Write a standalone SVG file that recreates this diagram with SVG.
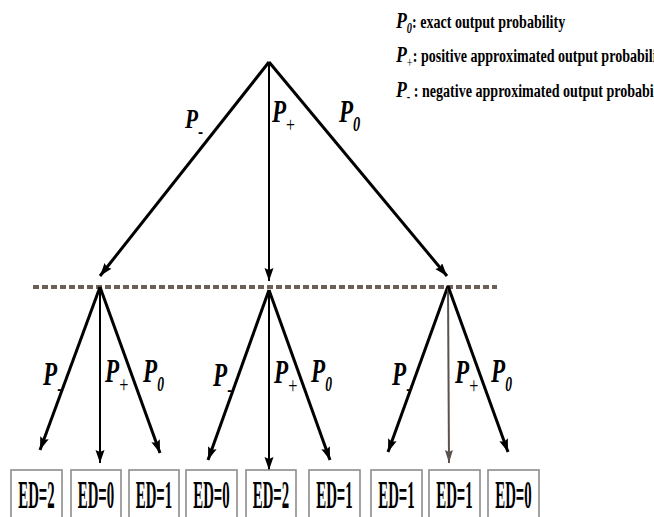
<svg xmlns="http://www.w3.org/2000/svg" width="654" height="517" viewBox="0 0 654 517">
<style>
.e{stroke:#000;fill:none;stroke-width:3}
.v{stroke:#000;fill:none;stroke-width:2}
.P{font-family:"Liberation Serif",serif;font-weight:bold;font-style:italic;fill:#000}
.lg{font-family:"Liberation Serif",serif;font-weight:bold;font-size:19px;fill:#000}
.pi{font-style:italic}
.up{font-style:normal}
.thin{font-weight:normal;font-style:normal}
.box{fill:#fff;stroke:#8c8c8c;stroke-width:1.6}
.ed{font-family:"Liberation Serif",serif;font-weight:bold;font-size:40px;fill:#000;text-anchor:middle}
</style>
<defs>
<marker id="ah" markerUnits="userSpaceOnUse" markerWidth="14" markerHeight="10" refX="13" refY="4.5" orient="auto" viewBox="0 0 14 10">
<path d="M0,0 L13,4.5 L0,9 L2,4.5 z" fill="#000"/>
</marker>
<marker id="ahg" markerUnits="userSpaceOnUse" markerWidth="14" markerHeight="10" refX="13" refY="4.5" orient="auto" viewBox="0 0 14 10">
<path d="M0,0.5 L13,4.5 L0,8.5 L2,4.5 z" fill="#5c524d"/>
</marker>
</defs>

<g id="legend">
<text class="lg" transform="translate(396,28) scale(0.74,1)"><tspan class="pi" font-size="24">P</tspan><tspan class="pi" font-size="14" dy="5">0</tspan><tspan dy="-5">: exact output probability</tspan></text>
<text class="lg" transform="translate(396,62) scale(0.74,1)"><tspan class="pi" font-size="24">P</tspan><tspan class="thin" font-size="14" dy="5">+</tspan><tspan dy="-5">: positive approximated output probability</tspan></text>
<text class="lg" transform="translate(396,97) scale(0.74,1)"><tspan class="pi" font-size="24">P</tspan><tspan font-size="14" dy="4">-</tspan><tspan dy="-4"> : negative approximated output probability</tspan></text>
</g>

<g id="connectors">
<path class="e" d="M269,62 L100,276" marker-end="url(#ah)"/>
<path class="v" d="M269,62 L269,281" marker-end="url(#ah)"/>
<path class="e" d="M269,62 L447,276" marker-end="url(#ah)"/>
<path d="M33,287 L497,287" stroke="#6b5f58" stroke-width="4" stroke-dasharray="6 3" fill="none"/>
<path class="e" d="M100,287 L40,450" marker-end="url(#ah)"/>
<path class="v" d="M100,287 L100,463" marker-end="url(#ah)"/>
<path class="e" d="M100,287 L160,453" marker-end="url(#ah)"/>
<path class="e" d="M269,290 L208,460" marker-end="url(#ah)"/>
<path class="v" d="M269,290 L269,470" marker-end="url(#ah)"/>
<path class="e" d="M269,290 L330,460" marker-end="url(#ah)"/>
<path class="e" d="M448,286 L388,452" marker-end="url(#ah)"/>
<path d="M448,286 L449,463" stroke="#5c524d" stroke-width="2" fill="none" marker-end="url(#ahg)"/>
<path class="e" d="M448,286 L508,452" marker-end="url(#ah)"/>
</g>

<g id="edge-labels">
<text class="P" font-size="28" transform="translate(185,128) scale(0.76,1)">P<tspan class="up" font-size="20" dy="10">-</tspan></text>
<text class="P" font-size="32" transform="translate(272,122) scale(0.72,1)">P<tspan class="thin" font-size="22" dy="10">+</tspan></text>
<text class="P" font-size="32" transform="translate(339,122) scale(0.72,1)">P<tspan font-size="20" dy="9">0</tspan></text>

<text class="P" font-size="34" transform="translate(43,385) scale(0.68,1)">P<tspan class="up" font-size="20" dy="10">-</tspan></text>
<text class="P" font-size="34" transform="translate(105,382) scale(0.68,1)">P<tspan class="thin" font-size="24" dy="10">+</tspan></text>
<text class="P" font-size="34" transform="translate(143,382) scale(0.68,1)">P<tspan font-size="20" dy="9">0</tspan></text>

<text class="P" font-size="34" transform="translate(213,386) scale(0.68,1)">P<tspan class="up" font-size="20" dy="10">-</tspan></text>
<text class="P" font-size="34" transform="translate(274,383) scale(0.68,1)">P<tspan class="thin" font-size="24" dy="10">+</tspan></text>
<text class="P" font-size="34" transform="translate(311,382) scale(0.68,1)">P<tspan font-size="20" dy="9">0</tspan></text>

<text class="P" font-size="34" transform="translate(392,385) scale(0.68,1)">P<tspan class="up" font-size="20" dy="10">-</tspan></text>
<text class="P" font-size="34" transform="translate(455,383) scale(0.68,1)">P<tspan class="thin" font-size="24" dy="10">+</tspan></text>
<text class="P" font-size="34" transform="translate(491,382) scale(0.68,1)">P<tspan font-size="20" dy="9">0</tspan></text>
</g>

<g id="leaf1"><rect class="box" x="11" y="470" width="51" height="52"/><text class="ed" transform="translate(36.5,508) scale(0.37,1)">ED=2</text></g>
<g id="leaf2"><rect class="box" x="71" y="470" width="50" height="52"/><text class="ed" transform="translate(96,508) scale(0.37,1)">ED=0</text></g>
<g id="leaf3"><rect class="box" x="129" y="470" width="50" height="52"/><text class="ed" transform="translate(154,508) scale(0.37,1)">ED=1</text></g>
<g id="leaf4"><rect class="box" x="186" y="470" width="51" height="52"/><text class="ed" transform="translate(211.5,508) scale(0.37,1)">ED=0</text></g>
<g id="leaf5"><rect class="box" x="246" y="470" width="50" height="52"/><text class="ed" transform="translate(271,508) scale(0.37,1)">ED=2</text></g>
<g id="leaf6"><rect class="box" x="309" y="470" width="51" height="52"/><text class="ed" transform="translate(334.5,508) scale(0.37,1)">ED=1</text></g>
<g id="leaf7"><rect class="box" x="371" y="470" width="51" height="52"/><text class="ed" transform="translate(396.5,508) scale(0.37,1)">ED=1</text></g>
<g id="leaf8"><rect class="box" x="429" y="470" width="51" height="52"/><text class="ed" transform="translate(454.5,508) scale(0.37,1)">ED=1</text></g>
<g id="leaf9"><rect class="box" x="488" y="470" width="51" height="52"/><text class="ed" transform="translate(513.5,508) scale(0.37,1)">ED=0</text></g>
</svg>
